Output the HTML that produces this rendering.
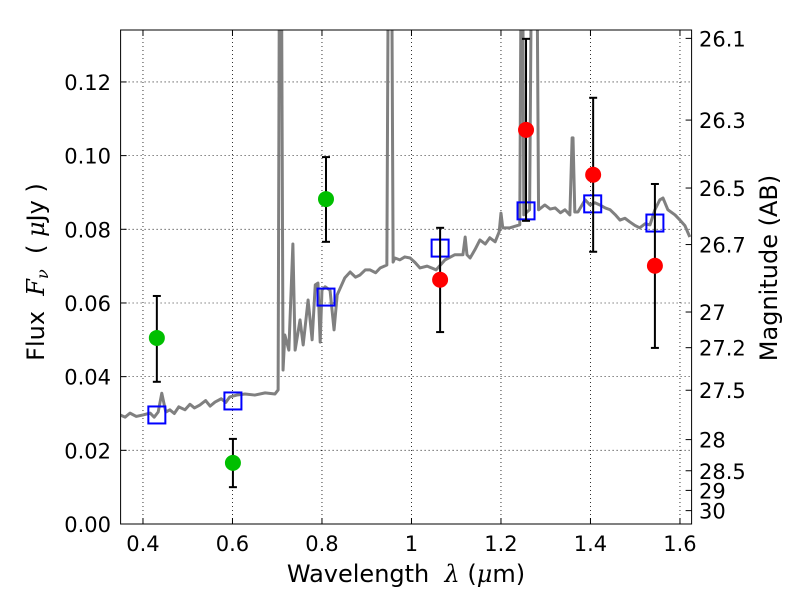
<!DOCTYPE html>
<html><head><meta charset="utf-8"><style>
body{margin:0;background:#fff;}
svg text{font-family:"DejaVu Sans","Liberation Sans",sans-serif;fill:#000;}
</style></head><body>
<svg id="chart" width="800" height="600" xmlns="http://www.w3.org/2000/svg">
<defs><clipPath id="clip"><rect x="120.6" y="30" width="571" height="494"/></clipPath></defs>
<g id="grid"></g>
<g id="spec" clip-path="url(#clip)"></g>
<g id="marks"></g>
<rect x="120.6" y="30" width="571" height="494" fill="none" stroke="#000" stroke-width="1"/>
<g id="axes"></g>
<text x="406" y="582" font-size="24" text-anchor="middle" xml:space="preserve">Wavelength  <tspan font-family="DejaVu Serif" font-style="italic">λ</tspan> (<tspan font-family="DejaVu Serif" font-style="italic">μ</tspan>m)</text>
<text transform="translate(44,272) rotate(-90)" font-size="24" text-anchor="middle" xml:space="preserve">Flux  <tspan font-family="DejaVu Serif" font-style="italic">F</tspan><tspan font-family="DejaVu Serif" font-style="italic" font-size="16" dy="4">ν</tspan><tspan dy="-4">  ( </tspan><tspan font-family="DejaVu Serif" font-style="italic">μ</tspan>Jy )</text>
<text transform="translate(777,268) rotate(-90)" font-size="24" text-anchor="middle">Magnitude (AB)</text>
</svg>
<script>
const xTicks=[0.4,0.6,0.8,1.0,1.2,1.4,1.6];
const xTickLabels=["0.4","0.6","0.8","1","1.2","1.4","1.6"];
const yTicks=[0,0.02,0.04,0.06,0.08,0.10,0.12];
const yTickLabels=["0.00","0.02","0.04","0.06","0.08","0.10","0.12"];
const magTicks=[26.1,26.3,26.5,26.7,27,27.2,27.5,28,28.5,29,30];
const magLabels=["26.1","26.3","26.5","26.7","27","27.2","27.5","28","28.5","29","30"];
const specWl=[0.349,0.360,0.371,0.385,0.400,0.416,0.425,0.434,0.442,0.451,0.460,0.470,0.480,0.494,0.505,0.515,0.527,0.540,0.550,0.561,0.575,0.585,0.594,0.610,0.628,0.650,0.673,0.695,0.702,0.706,0.708,0.713,0.717,0.726,0.735,0.740,0.751,0.758,0.769,0.778,0.785,0.791,0.796,0.800,0.807,0.818,0.827,0.834,0.851,0.863,0.875,0.885,0.897,0.907,0.920,0.930,0.945,0.950,0.954,0.959,0.963,0.974,0.985,0.997,1.008,1.019,1.035,1.055,1.075,1.097,1.115,1.120,1.124,1.131,1.142,1.153,1.165,1.175,1.187,1.196,1.200,1.204,1.220,1.242,1.247,1.251,1.258,1.264,1.271,1.278,1.284,1.298,1.310,1.321,1.333,1.343,1.354,1.359,1.361,1.365,1.372,1.388,1.399,1.410,1.421,1.433,1.444,1.455,1.466,1.477,1.488,1.500,1.510,1.522,1.533,1.544,1.555,1.562,1.573,1.589,1.600,1.611,1.622];
const specFlux=[0.0296,0.0290,0.0301,0.0292,0.0296,0.0301,0.0290,0.0304,0.0355,0.0304,0.0310,0.0300,0.0318,0.0310,0.0325,0.0315,0.0323,0.0335,0.0320,0.0331,0.0340,0.0330,0.0345,0.0350,0.0353,0.0350,0.0356,0.0353,0.0364,0.2,0.2,0.0418,0.0513,0.0472,0.0760,0.0472,0.0554,0.0486,0.0608,0.0500,0.0649,0.0654,0.0494,0.0635,0.0644,0.0635,0.0527,0.0622,0.0668,0.0684,0.0670,0.0676,0.0690,0.0690,0.0682,0.0695,0.0703,0.2,0.2,0.0711,0.0722,0.0717,0.0725,0.0722,0.0710,0.0695,0.0700,0.0690,0.0717,0.0731,0.0731,0.0779,0.0731,0.0722,0.0745,0.0771,0.0760,0.0777,0.0766,0.0793,0.0844,0.0804,0.0804,0.0812,0.2,0.0839,0.0847,0.0853,0.2,0.2,0.0853,0.0866,0.0855,0.0858,0.0845,0.0853,0.0839,0.1048,0.1048,0.0847,0.0847,0.0880,0.0866,0.0872,0.0866,0.0858,0.0853,0.0840,0.0825,0.0830,0.0820,0.0810,0.0804,0.0815,0.0812,0.0853,0.0880,0.0885,0.0853,0.0839,0.0825,0.0810,0.0779];
const greenWl=[0.431,0.601,0.809];
const greenFlux=[0.0505,0.0166,0.0882];
const greenLo=[0.0386,0.0100,0.0766];
const greenHi=[0.0619,0.0231,0.0996];
const redWl=[1.064,1.256,1.406,1.544];
const redFlux=[0.0663,0.1070,0.0948,0.0701];
const redLo=[0.0521,0.0823,0.0739,0.0478];
const redHi=[0.0804,0.1317,0.1157,0.0923];
const modelWl=[0.431,0.601,0.809,1.064,1.256,1.405,1.544];
const modelFlux=[0.0296,0.0334,0.0616,0.0749,0.0850,0.0869,0.0817];

const X0=120.6,X1=691.6,Y0=524,Y1=30;
const xmin=0.35,xmax=1.626,ymin=0,ymax=0.1341;
const sx=v=>X0+(v-xmin)/(xmax-xmin)*(X1-X0);
const sy=v=>Y0-(v-ymin)/(ymax-ymin)*(Y0-Y1);
const NS="http://www.w3.org/2000/svg";
function mk(tag,attrs,parent){const e=document.createElementNS(NS,tag);for(const k in attrs)e.setAttribute(k,attrs[k]);parent.appendChild(e);return e;}
const grid=document.getElementById('grid'),axes=document.getElementById('axes'),spec=document.getElementById('spec'),marks=document.getElementById('marks');
xTicks.forEach((t,i)=>{const x=sx(t);
 const g=mk('line',{x1:x,x2:x,y1:Y1,y2:Y0,stroke:'#000','stroke-dasharray':'1,3','stroke-width':0.8},grid);
 
 mk('line',{x1:x,x2:x,y1:Y0,y2:Y0-6,stroke:'#000'},axes);
 mk('line',{x1:x,x2:x,y1:Y1,y2:Y1+6,stroke:'#000'},axes);
 const tx=mk('text',{x:x,y:551,'font-size':21,'text-anchor':'middle'},axes);tx.textContent=xTickLabels[i];
 });
yTicks.forEach((t,i)=>{const y=sy(t);
 if(i>0){const g=mk('line',{x1:X0,x2:X1,y1:y,y2:y,stroke:'#000','stroke-dasharray':'1,3','stroke-width':0.8},grid);
 }
 mk('line',{x1:X0,x2:X0+6,y1:y,y2:y,stroke:'#000'},axes);
 const tx=mk('text',{x:111,y:y+8,'font-size':21,'text-anchor':'end'},axes);tx.textContent=yTickLabels[i];
 });
magTicks.forEach((m,i)=>{const y=sy(Math.pow(10,(23.9-m)/2.5));
 mk('line',{x1:X1,x2:X1-6,y1:y,y2:y,stroke:'#000'},axes);
 const tx=mk('text',{x:699,y:y+8,'font-size':21},axes);tx.textContent=magLabels[i];
 });
const p=mk('polyline',{points:specWl.map((w,i)=>sx(w)+','+sy(specFlux[i])).join(' '),fill:'none',stroke:'#808080','stroke-width':3,'stroke-linejoin':'round'},spec);

function errbar(w,lo,hi){const x=sx(w);
 const e=mk('g',{},marks);
 
 mk('line',{x1:x,x2:x,y1:sy(lo),y2:sy(hi),stroke:'#000','stroke-width':2},e);
 mk('line',{x1:x-4,x2:x+4,y1:sy(lo),y2:sy(lo),stroke:'#000','stroke-width':2},e);
 mk('line',{x1:x-4,x2:x+4,y1:sy(hi),y2:sy(hi),stroke:'#000','stroke-width':2},e);}
modelWl.forEach((w,i)=>{const r=mk('rect',{x:sx(w)-8.5,y:sy(modelFlux[i])-8.5,width:17,height:17,fill:'none',stroke:'#0000ff','stroke-width':2},marks);
 });
greenWl.forEach((w,i)=>{errbar(w,greenLo[i],greenHi[i]);
 const c=mk('circle',{cx:sx(w),cy:sy(greenFlux[i]),r:8,fill:'#00bf00'},marks);
 });
redWl.forEach((w,i)=>{errbar(w,redLo[i],redHi[i]);
 const c=mk('circle',{cx:sx(w),cy:sy(redFlux[i]),r:8,fill:'#ff0000'},marks);
 });
</script>
</body></html>
